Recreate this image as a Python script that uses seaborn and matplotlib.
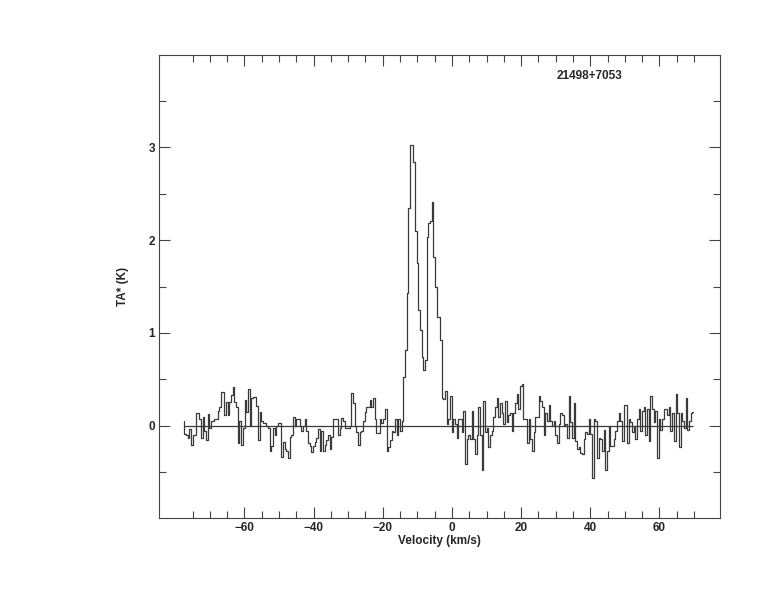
import numpy as np
import pandas as pd
import matplotlib
matplotlib.use('Agg')
import matplotlib.pyplot as plt
from matplotlib.ticker import FixedLocator
import seaborn as sns

# SPECTRUM (antenna temperature per channel)
source_name = '21498+7053'
v_start = -77.6     # km/s, first channel
v_step = 0.483      # km/s, channel width

ta_blue_side = [
    0.05, -0.09, -0.10, -0.13, -0.03, -0.20, -0.10, -0.10, 0.14, 0.14,
    0.08, -0.13, 0.10, -0.05, -0.15, 0.13, -0.02, 0.05, 0.05, 0.08,
    0.08, 0.16, 0.20, 0.36, 0.36, 0.12, 0.26, 0.12, 0.26, 0.33,
    0.42, 0.26, 0.20, -0.18, 0.05, -0.20, -0.02, 0.28, 0.15, 0.40,
    0.00, 0.30, 0.31, 0.31, 0.22, -0.15, 0.15, 0.05, 0.03, 0.03,
    0.00, -0.02, -0.27, -0.22, -0.02, -0.10, 0.00, 0.03, 0.03, -0.33,
    -0.17, -0.25, -0.27, -0.35, -0.12, -0.10, 0.10, 0.00, 0.08, 0.07,
    0.00, -0.05, 0.00, 0.08, -0.05, -0.18, -0.22,
]
ta_pre_line = [
    -0.28, -0.22, -0.17, -0.13, -0.03, -0.27, -0.05, -0.27, -0.20, -0.15,
    -0.10, -0.25, -0.12, 0.07, 0.08, 0.08, -0.10, -0.02, 0.09, 0.05,
    -0.02, -0.02, -0.02, 0.00, 0.35, 0.25, 0.00, -0.07, -0.20, -0.07,
    -0.05, 0.05, 0.15, 0.20, 0.20, 0.28, 0.20, 0.30, 0.08, -0.08,
    -0.08, 0.07, 0.03, 0.08, 0.18, -0.27, -0.23, -0.15, -0.05, -0.07,
    0.07, -0.10, 0.08, -0.05, 0.05,
]
ta_line = [
    0.53, 0.82, 1.43, 2.34, 3.02, 3.02, 2.84, 2.10, 1.75,
    1.25, 1.03, 0.74, 0.60, 0.71, 2.03, 2.18, 2.20, 2.41, 1.82,
    1.50, 1.17, 1.17, 0.92, 0.30,
]
ta_post_line = [
    0.29, 0.38, 0.02, 0.07, 0.32, -0.07, 0.07, 0.02, -0.13, 0.07,
    0.07, -0.07, 0.16, -0.41, -0.14, -0.10, -0.14, 0.16, -0.14, -0.30,
    -0.10, 0.20, -0.10, -0.47, 0.27, -0.07, -0.02, -0.23, -0.10, -0.05,
    0.10, 0.20, 0.30, 0.10, 0.25, 0.14, 0.02, 0.27, 0.04, 0.12,
    0.14, -0.05, 0.14, 0.25, 0.34, 0.18, 0.43, 0.45, 0.07, 0.07,
    -0.18, 0.07, -0.14, -0.27, -0.07, 0.10, 0.10, 0.32, 0.27, 0.20,
    -0.10, 0.14, 0.05, 0.23, 0.05, 0.00, 0.05, -0.10, -0.18, 0.02,
    0.14, 0.12, 0.00, 0.02, -0.13, 0.32, 0.04, -0.13, 0.25, -0.16,
    -0.25, -0.23, -0.29, -0.30, -0.14, -0.07, -0.09, 0.07,
]
ta_red_side = [
    -0.09, -0.56, 0.07, 0.05, -0.34, -0.13, -0.14, -0.27, -0.04, -0.47,
    -0.27, 0.00, -0.22, -0.22, -0.14, -0.05, 0.05, 0.14, 0.05, -0.16,
    0.23, 0.23, -0.18, 0.07, 0.04, -0.07, 0.00, -0.14, 0.07, 0.18,
    -0.05, 0.16, 0.20, -0.10, 0.18, -0.16, 0.32, 0.18, 0.04, 0.16,
    -0.34, 0.07, -0.04, 0.07, 0.18, 0.18, 0.12, 0.20, -0.05, 0.14,
    -0.16, 0.34, 0.14, -0.23, 0.14, 0.05, -0.02, 0.30, -0.04, 0.05,
    0.14, 0.15,
]

x_major = [-60, -40, -20, 0, 20, 40, 60]
x_minor = list(range(-75, 71, 5))
y_major = [0, 1, 2, 3]
y_minor = [-0.5, 0.5, 1.5, 2.5, 3.5]

# BUILD FRAME
ta = ta_blue_side + ta_pre_line + ta_line + ta_post_line + ta_red_side
df = pd.DataFrame({'velocity': v_start + v_step * np.arange(len(ta)), 'ta': ta})

# PLOT
sns.set_style('ticks')
plt.rcParams['font.family'] = ['Liberation Sans', 'DejaVu Sans']
plt.rcParams['font.weight'] = 'bold'

fig = plt.figure(figsize=(7.74, 6.12), dpi=100)
ax = fig.add_axes([0.2054, 0.1536, 0.7248, 0.7565])

sns.lineplot(data=df, x='velocity', y='ta', ax=ax, estimator=None,
             drawstyle='steps-mid', color='#3a3a3a', linewidth=0.9)
ax.hlines(0, df.velocity.min(), df.velocity.max(), color='#3a3a3a', linewidth=0.9)

ax.set_xlim(-84.7, 77.5)
ax.set_ylim(-0.99, 3.99)
ax.xaxis.set_major_locator(FixedLocator(x_major))
ax.xaxis.set_minor_locator(FixedLocator(x_minor))
ax.yaxis.set_major_locator(FixedLocator(y_major))
ax.yaxis.set_minor_locator(FixedLocator(y_minor))
ax.tick_params(which='both', direction='in', top=True, right=True,
               color='#444444', width=0.8, labelsize=8.5, pad=3)
ax.tick_params(which='major', length=8)
ax.tick_params(which='minor', length=5)
for s in ax.spines.values():
    s.set_color('#444444')
    s.set_linewidth(0.8)
for lab in ax.get_xticklabels() + ax.get_yticklabels():
    lab.set_fontweight('bold')

ax.set_xlabel('Velocity (km/s)', fontsize=8.5, fontweight='bold', labelpad=0.5)
ax.set_ylabel('TA* (K)', fontsize=8.5, fontweight='bold', labelpad=14)
ax.text(0.709, 0.955, source_name, transform=ax.transAxes, fontsize=8.5,
        fontweight='bold', ha='left', va='center')

plt.savefig('out.png', dpi=100)
